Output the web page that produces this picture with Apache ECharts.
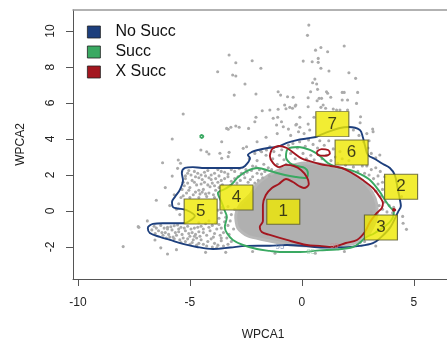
<!DOCTYPE html>
<html>
<head>
<meta charset="utf-8">
<script src="https://cdn.jsdelivr.net/npm/echarts@6/dist/echarts.min.js"></script>
<style>
  html, body { margin: 0; padding: 0; background: #fff; }
  #chart { width: 447px; height: 341px; }
</style>
</head>
<body>
<div id="chart"></div>
<script>
// Axis ticks
const xTicks = [-10, -5, 0, 5];
const yTicks = [-2, 0, 2, 4, 6, 8, 10];

// Legend groups
const groups = ['No Succ', 'Succ', 'X Succ'];

// Dense core of the point cloud (outline of the solid region, WPCA1/WPCA2)
const coreOutline = [
  [-1.79, 1.72], [-1.21, 2.17], [-0.54, 2.5], [0.13, 2.67], [0.80, 2.61], [1.47, 2.44],
  [2.14, 2.17], [2.68, 1.72], [3.13, 1.06], [3.35, 0.33], [3.30, -0.5], [2.95, -1.33],
  [2.37, -1.78], [1.47, -1.94], [0.36, -1.94], [-0.76, -1.83], [-1.65, -1.61], [-2.41, -1.39],
  [-2.86, -0.94], [-2.95, -0.22], [-2.77, 0.33], [-2.32, 0.89], [-2.10, 1.33]
];

// Individual observations outside the dense core
const points = [
  // upper outliers
  [-3.25, 8.67], [-2.95, 8.24], [-2.22, 8.35], [-1.83, 7.93], [-3.76, 7.74], [-3.09, 7.56], [-2.95, 7.5],
  [-2.54, 7.06], [-3.02, 6.44], [-2.05, 6.5], [-1.06, 6.63], [-0.95, 6.44], [-0.64, 6.35], [-5.30, 5.39],
  [-1.77, 5.57], [-1.43, 5.61], [-1.06, 5.65], [-0.71, 5.68], [-2.05, 5.21], [-1.08, 5.21], [-0.77, 5.89],
  [-2.95, 4.72], [-2.80, 4.65], [-2.38, 4.59], [-3.29, 4.54], [-1.13, 4.78], [0.31, 10.33], [0.25, 9.76],
  [0.61, 8.94], [0.85, 9.09], [1.15, 8.85], [1.89, 9.17], [0.06, 8.33], [0.46, 8.29], [0.73, 8.48],
  [0.73, 8.26], [0.85, 7.93], [1.21, 7.78], [2.10, 7.68], [2.40, 7.37], [0.58, 7.33], [0.48, 7.13],
  [0.66, 7.06], [0.70, 6.76], [1.10, 6.63], [1.15, 6.54], [1.80, 6.59], [1.89, 6.59], [2.49, 6.59],
  [0.39, 6.63], [-0.39, 6.32], [0.28, 6.29], [0.77, 6.26], [0.88, 6.26], [1.29, 6.32], [1.80, 6.17],
  [2.04, 6.17], [0.68, 6.13], [-0.27, 5.89], [-0.42, 5.71], [0.95, 5.89], [2.44, 5.98], [0.28, 5.79],
  [0.85, 5.76], [1.06, 5.71], [1.40, 5.67], [1.55, 5.61], [1.70, 5.61], [2.04, 5.61], [-0.09, 5.21],
  [0.54, 5.21], [2.62, 5.24], [-0.27, 4.78], [-0.09, 4.65], [3.16, 4.56], [-0.54, 5.76], [-0.30, 5.83],
  [-2.10, 4.96], [-1.28, 5.15], [-0.91, 4.96], [-0.83, 4.68], [-0.24, 4.82], [0.28, 4.83], [-3.36, 4.59],
  [-3.17, 4.65], [-2.62, 3.48], [-2.47, 3.57], [-1.80, 3.29], [-1.58, 3.39], [-1.43, 3.57], [-3.58, 2.93],
  [-3.29, 3.02], [3.18, 4.41], [3.48, 3.11], [-5.79, 4.0], [-4.25, 3.29], [-4.15, 3.17], [-4.51, 3.39],
  [-3.58, 3.85], [-3.66, 3.21], [-3.25, 3.26], [-6.22, 2.68], [-5.52, 2.83], [-5.42, 2.65], [-5.79, 1.94],
  [-5.55, 2.37], [-7.31, -0.87], [-7.98, -1.98], [-7.28, -0.91], [-6.0, -2.39], [-6.56, -1.61],
  [0.1, 4.3], [0.35, 4.5], [-0.15, 4.4], [-0.5, 4.2], [2.55, 4.2], [2.75, 3.85], [2.95, 3.5], [3.1, 3.2],
  [3.3, 2.95], [3.0, 3.9], [2.3, 4.5], [2.6, 4.9], [-0.6, 4.55], [-1.6, 4.1], [-2.0, 3.85], [-1.1, 4.3],
  [2.9, 4.3],
  // right edge
  [4.52, -0.68], [4.67, -1.02], [4.45, 0.8], [4.5, -0.3],
  // sparse lower / left
  [-6.9, -0.55], [-6.3, -2.05], [-5.6, -2.15], [-4.3, -2.3], [-3.4, -2.3], [-2.2, -2.25], [-1.2, -2.35],
  [0.6, -2.35], [1.9, -2.25], [3.3, -1.95], [-5.9, 0.3], [-5.7, 0.9], [-6.1, 1.3], [-6.5, 0.6],
  // left shoulder above the left lobe
  [-5.1, 2.1], [-4.8, 2.2], [-4.5, 2.0], [-4.2, 2.25], [-3.9, 2.1], [-3.6, 2.2], [-3.3, 2.05], [-3.0, 2.2],
  [-2.7, 2.1], [-5.2, 1.8], [-4.9, 1.7], [-4.6, 1.85], [-4.35, 1.6], [-4.05, 1.75], [-3.75, 1.6],
  [-3.45, 1.8], [-3.15, 1.65], [-2.85, 1.9], [-5.25, 1.4], [-5.0, 1.3], [-4.7, 1.45], [-4.4, 1.2],
  [-4.1, 1.35], [-3.85, 1.15], [-5.15, 1.0], [-4.85, 0.9], [-4.55, 0.95], [-4.25, 0.8], [-3.95, 0.9],
  [-5.4, 0.75], [-5.3, 1.6], [-4.95, 2.0], [-4.3, 1.95], [-3.7, 1.95], [-3.2, 1.4], [-2.9, 1.55],
  [-4.6, 1.15], [-4.0, 1.55], [-3.55, 1.45], [-5.5, 0.4], [-5.6, 0.1], [-5.45, -0.2],
  [-5.05, 2.25], [-4.65, 2.1], [-4.35, 2.15], [-4.05, 2.0], [-3.75, 2.3], [-3.45, 2.15], [-3.15, 2.3],
  [-2.8, 2.35], [-5.2, 1.95], [-4.75, 1.9], [-4.45, 1.75], [-4.15, 1.85], [-3.85, 1.8], [-3.6, 1.7],
  [-3.3, 1.9], [-3.0, 1.8], [-2.75, 1.7], [-5.1, 1.55], [-4.8, 1.6], [-4.5, 1.5], [-4.2, 1.45],
  [-3.9, 1.4], [-3.7, 1.3], [-5.35, 1.2], [-5.05, 1.15], [-4.75, 1.05], [-4.45, 1.05], [-4.15, 1.0],
  [-3.9, 0.75], [-5.3, 0.85], [-5.0, 0.75], [-4.6, 0.75], [-4.3, 0.95],
  // left lobe
  [-6.6, -0.85], [-6.3, -0.8], [-6.0, -0.9], [-5.7, -0.82], [-5.4, -0.9], [-5.1, -0.85], [-4.8, -0.95],
  [-4.5, -0.85], [-6.7, -1.05], [-6.4, -1.1], [-6.1, -1.2], [-5.8, -1.05], [-5.5, -1.15], [-5.2, -1.1],
  [-4.9, -1.2], [-4.6, -1.15], [-6.2, -1.35], [-5.9, -1.45], [-5.6, -1.35], [-5.3, -1.5], [-5.0, -1.4],
  [-4.7, -1.5], [-5.7, -1.55], [-5.2, -1.7], [-4.9, -1.75], [-4.5, -1.6], [-4.4, -1.85], [-5.5, -1.0],
  [-6.0, -1.0], [-4.75, -1.3],
  [-6.5, -0.95], [-6.15, -0.95], [-5.85, -0.88], [-5.55, -0.78], [-5.25, -0.95], [-4.95, -1.0],
  [-4.65, -0.9], [-6.55, -1.25], [-6.25, -1.2], [-5.95, -1.3], [-5.65, -1.2], [-5.35, -1.3], [-5.05, -1.25],
  [-4.8, -1.4], [-4.55, -1.4], [-6.05, -1.5], [-5.75, -1.45], [-5.45, -1.6], [-5.1, -1.55], [-4.85, -1.6],
  [-4.6, -1.8], [-5.4, -1.75], [-5.0, -1.85], [-4.7, -1.9], [-4.25, -1.95], [-4.4, -1.2], [-4.6, -0.65],
  [-4.15, -0.55],
  // between left lobe and core
  [-4.3, -0.7], [-4.0, -0.8], [-3.7, -0.75], [-3.45, -0.6], [-4.4, -1.0], [-4.1, -1.1], [-3.8, -1.0],
  [-3.5, -1.2], [-4.25, -1.35], [-3.95, -1.45], [-3.65, -1.35], [-3.35, -1.5], [-4.2, -1.7], [-3.9, -1.8],
  [-3.6, -1.65], [-3.3, -1.85], [-4.0, -2.0], [-3.5, -1.95], [-3.7, -0.4], [-3.6, -0.1], [-3.55, 0.2],
  [-3.2, -0.55], [-3.05, -1.0], [-3.15, -0.2], [-3.0, 0.1],
  [-4.15, -0.9], [-3.85, -0.65], [-3.6, -0.95], [-3.3, -0.8], [-3.9, -1.25], [-3.6, -1.5], [-3.25, -1.3],
  [-4.05, -1.55], [-3.75, -1.9], [-3.15, -1.7], [-3.8, -2.05], [-3.4, -0.35], [-3.3, 0.25], [-3.75, 0.05],
  // band above the core
  [-2.5, 2.3], [-2.2, 2.5], [-2.0, 2.8], [-1.9, 2.3], [-1.7, 2.6], [-1.6, 3.1], [-1.5, 2.4], [-1.3, 2.9],
  [-1.25, 3.3], [-1.1, 2.6], [-1.0, 3.1], [-0.9, 3.4], [-0.8, 2.85], [-0.6, 3.65], [-0.5, 3.2],
  [-0.4, 3.75], [-0.3, 2.9], [-0.2, 3.5], [-0.1, 3.85], [0.05, 3.2], [0.15, 3.6], [0.3, 3.95], [0.4, 3.1],
  [0.5, 3.7], [0.55, 2.85], [0.7, 3.5], [0.8, 3.9], [0.9, 2.9], [1.0, 3.65], [1.1, 3.1], [1.2, 3.9],
  [1.3, 2.8], [1.4, 3.45], [1.5, 3.0], [1.6, 2.65], [1.7, 3.3], [1.8, 2.9], [1.95, 2.55], [2.1, 2.8],
  [2.3, 2.45], [2.5, 2.2], [2.7, 2.5], [2.8, 2.1], [-2.35, 2.9], [-2.1, 3.2], [-1.85, 3.35], [-0.7, 2.6],
  [0.2, 2.9], [-2.6, 2.05], [-2.2, 1.9], [-1.95, 1.7], [-2.4, 1.6], [-2.0, 2.1], [-2.45, 2.15],
  [-2.25, 2.25], [-2.05, 2.45], [-1.8, 2.05], [-1.65, 2.2], [-1.45, 1.95], [-1.35, 2.3], [-2.55, 1.85],
  [-2.3, 1.75], [-2.1, 1.55], [-1.75, 1.85], [-1.15, 2.1], [-0.95, 2.35],
  // right flank
  [3.0, 2.0], [3.2, 1.8], [3.4, 1.5], [3.6, 1.2], [3.3, 1.1], [3.5, 0.8], [3.7, 0.5], [3.9, 0.3],
  [4.1, 0.2], [3.45, 0.3], [3.6, 0.1], [3.8, -0.05], [4.05, -0.1], [3.35, -0.1], [3.1, 2.3], [2.9, 2.5],
  [3.3, 2.4], [3.5, 2.2], [3.7, 1.9], [3.4, 1.95], [3.6, 1.6], [2.6, -1.75], [2.5, -1.9], [2.8, -1.7],
  [3.1, -0.05], [3.0, -0.3]
];

// 95% density contours
const contourNoSucc = [
  [0.63, 4.11], [0.22, 4.03], [-0.22, 3.94], [-0.67, 3.78], [-1.07, 3.58], [-1.52, 3.5], [-1.96, 3.39],
  [-2.23, 3.28], [-2.41, 3.11], [-2.32, 2.94], [-2.54, 2.5], [-2.77, 2.39], [-3.21, 2.39], [-3.97, 2.39],
  [-4.46, 2.39], [-4.87, 2.44], [-5.22, 2.39], [-5.36, 2.11], [-5.31, 1.72], [-5.45, 1.17], [-5.67, 0.78],
  [-5.80, 0.5], [-5.76, 0.22], [-5.54, 0.14], [-5.18, 0.06], [-4.78, -0.28], [-5.09, -0.61], [-5.31, -0.68],
  [-6.21, -0.68], [-6.65, -0.72], [-6.88, -0.94], [-6.79, -1.22], [-6.34, -1.44], [-5.89, -1.61],
  [-5.31, -1.83], [-4.69, -2.0], [-3.97, -2.11], [-3.21, -2.03], [-2.46, -1.94], [-1.43, -1.93],
  [-0.67, -1.89], [0.04, -1.93], [0.94, -2.03], [1.83, -2.02], [2.59, -1.94], [3.17, -1.79], [3.48, -1.52],
  [3.93, -0.94], [4.29, -0.06], [4.42, 0.28], [4.38, 0.61], [4.29, 1.17], [4.15, 2.0], [3.93, 2.39],
  [3.62, 2.61], [3.26, 2.89], [2.95, 3.11], [2.81, 3.67], [2.72, 4.11], [2.59, 4.5], [2.10, 4.67],
  [1.70, 4.61], [1.03, 4.33], [0.63, 4.11]
];
const contourSucc = [
  [-2.90, 1.83], [-2.46, 2.22], [-1.96, 2.39], [-1.43, 2.22], [-0.76, 2.0], [-0.27, 1.89], [0.18, 1.83],
  [0.27, 2.11], [0.13, 2.39], [-0.22, 2.5], [-0.54, 2.67], [-0.71, 3.0], [-0.63, 3.44], [-0.18, 3.56],
  [0.36, 3.39], [0.80, 3.06], [1.16, 2.67], [1.56, 2.44], [2.14, 2.28], [2.59, 2.06], [3.04, 1.72],
  [3.48, 1.06], [3.71, 0.61], [3.93, 0.22], [4.11, -0.06], [3.93, -0.61], [3.26, -1.22], [2.81, -1.5],
  [2.63, -1.72], [2.28, -2.0], [1.56, -2.14], [0.80, -2.19], [-0.09, -2.28], [-0.98, -2.28], [-1.43, -2.22],
  [-2.01, -2.11], [-2.63, -1.89], [-3.08, -1.61], [-3.35, -1.22], [-3.44, -0.89], [-3.35, -0.33],
  [-3.44, 0], [-3.57, 0.44], [-3.75, 1.0], [-3.44, 1.22], [-3.17, 1.44], [-2.90, 1.83]
];
const contourSuccIsle = [[-4.56, 4.14], [-4.48, 4.22], [-4.40, 4.14], [-4.48, 4.06], [-4.56, 4.14]];
const contourXSucc = [
  [-1.34, 3.44], [-1.03, 3.61], [-0.67, 3.5], [-0.36, 3.22], [-0.04, 2.94], [0.31, 2.78], [0.80, 2.61],
  [1.29, 2.5], [1.79, 2.39], [2.23, 2.11], [2.72, 1.72], [3.17, 1.28], [3.48, 0.78], [3.62, 0.44],
  [3.57, 0.17], [3.35, -0.11], [3.04, -0.61], [2.81, -1.17], [2.46, -1.61], [1.96, -1.78], [1.38, -2.0],
  [0.80, -1.94], [0.22, -1.89], [-0.67, -1.61], [-1.43, -1.33], [-1.79, -1.17], [-1.88, -0.89],
  [-1.74, -0.56], [-1.74, -0.11], [-1.74, 0.33], [-1.61, 0.89], [-1.34, 1.28], [-1.03, 1.5], [-0.71, 1.78],
  [-0.40, 1.61], [-0.13, 1.39], [0.09, 1.28], [0.31, 1.5], [0.22, 1.89], [-0.04, 2.28], [-0.36, 2.5],
  [-0.71, 2.56], [-1.03, 2.44], [-1.29, 2.67], [-1.43, 3.06], [-1.34, 3.44]
];
const contourXSuccIsle = [[0.66, 3.29], [0.88, 3.44], [1.17, 3.39], [1.25, 3.2], [1.03, 3.07], [0.73, 3.11], [0.66, 3.29]];
const contourXSuccDot = [[4.05, 0.06], [4.11, 0.11], [4.17, 0.06], [4.11, 0.01], [4.05, 0.06]];

// Contour level labels
const levelLabels = [
  { value: [-0.98, -2.0], text: '95', group: 0 },
  { value: [0.40, -2.28], text: '95', group: 1 },
  { value: [1.45, -1.95], text: '95', group: 2 }
];

// Cluster markers
const clusterIds = ['1', '2', '3', '4', '5', '6', '7'];
const clusterX = [-0.83, 4.43, 3.53, -2.92, -4.52, 2.22, 1.36];
const clusterY = [-0.04, 1.35, -0.92, 0.75, -0.03, 3.25, 4.83];

const colors = ['#1d3f7d', '#3aa962', '#a3161f'];
const labelColors = ['#6b82ad', '#8fcaa3', '#c98a8e'];
const pointColor = '#ababab';
const font = '"Liberation Sans", Arial, Helvetica, sans-serif';

const chart = echarts.init(document.getElementById('chart'), null, { renderer: 'canvas' });

function contourSeries(name, data, color, z) {
  return {
    name: name, type: 'line', data: data, showSymbol: false, symbol: 'none',
    smooth: 0.35, smoothMonotone: null, z: z, silent: true,
    lineStyle: { color: color, width: 1.9 },
    itemStyle: { color: color },
    animation: false
  };
}

const option = {
  animation: false,
  backgroundColor: '#ffffff',
  grid: { left: 73, right: 0, top: 10, bottom: 62, containLabel: false, outerBoundsMode: 'none' },
  legend: {
    orient: 'vertical', left: 87, top: 24, padding: 0, itemWidth: 13, itemHeight: 12, itemGap: 4,
    icon: 'rect', selectedMode: false,
    textStyle: { fontSize: 16, color: '#111', fontFamily: font, padding: [0, 0, 0, 10] },
    data: groups.map((g, i) => ({
      name: g, icon: 'rect',
      itemStyle: { color: colors[i], borderColor: '#222', borderWidth: 0.8 }
    }))
  },
  xAxis: [{
    type: 'value', min: -10.22, max: 6.48,
    name: 'WPCA1', nameLocation: 'middle', nameGap: 50,
    nameTextStyle: { fontSize: 12, color: '#222', fontFamily: font, padding: [0, 0, 0, 6] },
    axisLine: { show: true, onZero: false, lineStyle: { color: '#555', width: 1 } },
    axisTick: { show: true, inside: false, length: 7, customValues: xTicks, lineStyle: { color: '#555' } },
    axisLabel: { customValues: xTicks, fontSize: 12, color: '#222', margin: 18, fontFamily: font },
    splitLine: { show: false }
  }, {
    type: 'value', position: 'top', min: -10.22, max: 6.48,
    axisLine: { show: true, onZero: false, lineStyle: { color: '#999', width: 1.5 } },
    axisTick: { show: false }, axisLabel: { show: false }, splitLine: { show: false }
  }],
  yAxis: {
    type: 'value', min: -3.78, max: 11.17,
    name: 'WPCA2', nameLocation: 'middle', nameGap: 46,
    nameTextStyle: { fontSize: 12, color: '#222', fontFamily: font },
    axisLine: { show: true, onZero: false, lineStyle: { color: '#555', width: 1 } },
    axisTick: { show: true, inside: false, length: 7, customValues: yTicks, lineStyle: { color: '#555' } },
    axisLabel: {
      customValues: yTicks, fontSize: 12, color: '#222', margin: 16, rotate: 90,
      align: 'center', verticalAlign: 'bottom', fontFamily: font
    },
    splitLine: { show: false }
  },
  series: [
    {
      // solid core of the point cloud
      type: 'custom', silent: true, z: 1, clip: true,
      data: [coreOutline[0]],
      renderItem: function (params, api) {
        const pts = coreOutline.map(p => api.coord(p));
        return {
          type: 'polygon',
          shape: { points: pts, smooth: 0.25 },
          style: { fill: '#b0b0b0', stroke: '#b8b8b8', lineWidth: 3 }
        };
      }
    },
    {
      type: 'scatter', data: points, symbol: 'circle', symbolSize: 3.1, z: 2, silent: true,
      itemStyle: { color: pointColor, opacity: 1 }
    },
    contourSeries(groups[0], contourNoSucc, colors[0], 3),
    contourSeries(groups[1], contourSucc, colors[1], 4),
    contourSeries(groups[1], contourSuccIsle, colors[1], 4),
    contourSeries(groups[2], contourXSucc, colors[2], 5),
    contourSeries(groups[2], contourXSuccIsle, colors[2], 5),
    contourSeries(groups[2], contourXSuccDot, colors[2], 5),
    {
      type: 'scatter', z: 6, silent: true, symbolSize: 0,
      data: levelLabels.map(d => ({ value: d.value, name: d.text, group: d.group })),
      label: {
        show: true, position: 'inside', fontSize: 8, fontFamily: font,
        formatter: p => p.name,
        color: '#888'
      }
    },
    {
      type: 'scatter', z: 10, silent: true,
      symbol: 'rect', symbolSize: [33, 25],
      data: clusterIds.map((id, i) => ({ value: [clusterX[i], clusterY[i]], name: id })),
      itemStyle: { color: '#efe800', borderColor: '#55552a', borderWidth: 1 },
      label: {
        show: true, position: 'inside', formatter: p => p.name,
        fontSize: 17, color: '#111', fontFamily: font
      }
    }
  ]
};

// tint each contour label with its contour colour
option.series[8].data.forEach(d => { d.label = { color: labelColors[d.group] }; });

chart.setOption(option);
</script>
</body>
</html>
